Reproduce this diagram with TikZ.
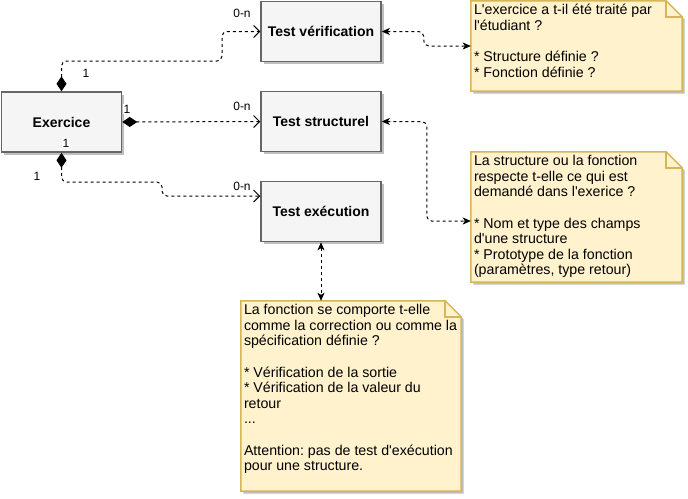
\documentclass[tikz,border=0pt]{standalone}
\usepackage{fontspec}
\setmainfont{Liberation Sans}
\usetikzlibrary{arrows.meta,shadows,calc}
\definecolor{boxfill}{HTML}{F5F5F5}
\definecolor{boxline}{HTML}{666666}
\definecolor{notefill}{HTML}{FFF2CC}
\definecolor{noteline}{HTML}{D6B656}
\newcommand{\aq}{\textquotesingle}
\frenchspacing
\tikzset{
  cls/.style={draw=boxline, fill=boxfill, line width=1.5pt, minimum width=120pt, minimum height=60pt,
    inner sep=0pt, font=\fontsize{14}{16}\selectfont\bfseries,
    drop shadow={shadow xshift=2.5pt, shadow yshift=-2.5pt, fill=black, opacity=0.25}},
  notebg/.style={draw=none, fill=none, inner sep=0pt},
  notedraw/.style={draw=noteline, fill=notefill, line width=1.5pt, line join=miter,
    drop shadow={shadow xshift=2.5pt, shadow yshift=-2.5pt, fill=black, opacity=0.25}},
  notefold/.style={draw=noteline, line width=1.5pt},
  notetext/.style={inner sep=0pt, align=left, font=\fontsize{14.2}{15.6}\selectfont},
  lbl/.style={fill=white, inner sep=1pt, font=\fontsize{12}{13}\selectfont},
  dashln/.style={line width=1pt, dash pattern=on 3pt off 3pt},
  comp/.style={dashln, rounded corners=5pt,
    {Diamond[length=15pt,width=10pt]}-{Straight Barb[length=6pt,width=12pt,line width=1pt]}},
  biconn/.style={dashln, rounded corners=5pt,
    {Stealth[length=8pt,width=7pt,inset=2pt]}-{Stealth[length=8pt,width=7pt,inset=2pt]}},
}
\begin{document}
\begin{tikzpicture}[x=1pt,y=-1pt]
\useasboundingbox (0,0) rectangle (688,498);
\fill[white] (0,0) rectangle (688,498);

% classes
\node[cls] (ex) at (61.5,122) {Exercice};
\node[cls] (tv) at (321,31.5) {Test vérification};
\node[cls] (ts) at (321,121.5) {Test structurel};
\node[cls] (te) at (321,211.5) {Test exécution};

% notes
\node[notebg, minimum width=211pt, minimum height=90pt] (n1) at (576.5,46) {};
\draw[notedraw] (n1.north west) -- ($(n1.north east)+(-16,0)$) -- ($(n1.north east)+(0,16)$) -- (n1.south east) -- (n1.south west) -- cycle;
\draw[notefold] ($(n1.north east)+(-16,0)$) -- ($(n1.north east)+(-16,16)$) -- ($(n1.north east)+(0,16)$);
\node[notetext, anchor=north west] (t1) at ($(n1.north west)+(3,3.5)$)
  {L\aq exercice a t-il été traité par\\l\aq étudiant ?\\[15.6pt]* Structure définie ?\\* Fonction définie ?};

\node[notebg, minimum width=211pt, minimum height=130pt] (n2) at (576.5,217) {};
\draw[notedraw] (n2.north west) -- ($(n2.north east)+(-16,0)$) -- ($(n2.north east)+(0,16)$) -- (n2.south east) -- (n2.south west) -- cycle;
\draw[notefold] ($(n2.north east)+(-16,0)$) -- ($(n2.north east)+(-16,16)$) -- ($(n2.north east)+(0,16)$);
\node[notetext, anchor=north west] (t2) at ($(n2.north west)+(3,3.5)$)
  {La structure ou la fonction\\respecte t-elle ce qui est\\demandé dans l\aq exerice ?\\[15.6pt]* Nom et type des champs\\d\aq une structure\\* Prototype de la fonction\\(paramètres, type retour)};

\node[notebg, minimum width=220pt, minimum height=190pt] (n3) at (351,396) {};
\draw[notedraw] (n3.north west) -- ($(n3.north east)+(-16,0)$) -- ($(n3.north east)+(0,16)$) -- (n3.south east) -- (n3.south west) -- cycle;
\draw[notefold] ($(n3.north east)+(-16,0)$) -- ($(n3.north east)+(-16,16)$) -- ($(n3.north east)+(0,16)$);
\node[notetext, anchor=north west] (t3) at ($(n3.north west)+(3,3.5)$)
  {La fonction se comporte t-elle\\comme la correction ou comme la\\spécification définie ?\\[15.6pt]* Vérification de la sortie\\* Vérification de la valeur du\\retour\\...\\[15.6pt]Attention: pas de test d\aq exécution\\pour une structure.};

% composition connectors
\coordinate (k1) at (222,61);
\coordinate (k2) at (162,182);
\coordinate (e3) at ($(te.west)+(0,-15.5)$);
\draw[comp] (ex.north) |- (k1) |- (tv.west);
\draw[comp] (ex.east) -- (ts.west);
\draw[comp] (ex.south) |- (k2) |- (e3);

% note connectors
\draw[biconn] (tv.east) -- ++(42,0) |- (n1.west);
\draw[biconn] (ts.east) -- ++(45,0) |- ($(n2.west)+(0,4)$);
\draw[biconn] (te.south) -- (te.south |- n3.north);

% multiplicity labels
\node[lbl] (m1) at (86,73) {1};
\node[lbl] (m2) at (127,109) {1};
\node[lbl] (m3) at (66,143) {1};
\node[lbl] (m4) at (37,176) {1};
\node[lbl] (c1) at (242,13) {0-n};
\node[lbl] (c2) at (242,106) {0-n};
\node[lbl] (c3) at (242,186) {0-n};
\end{tikzpicture}
\end{document}
